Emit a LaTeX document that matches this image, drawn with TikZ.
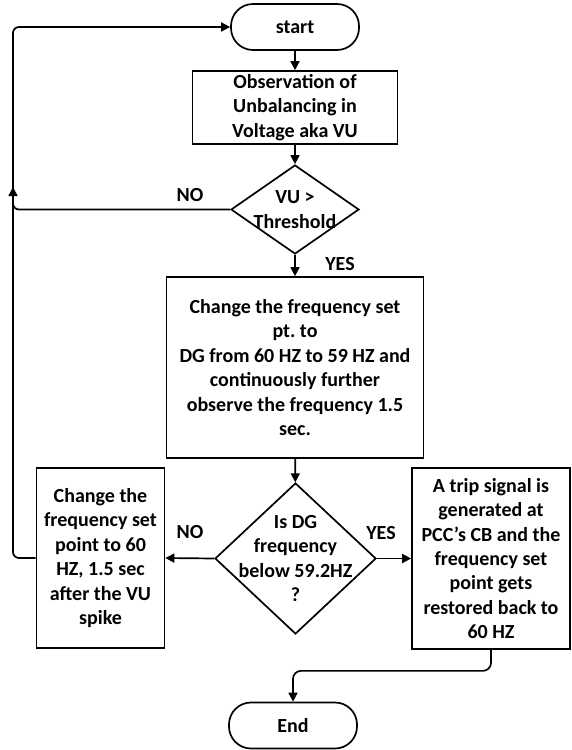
\documentclass[tikz,border=0pt]{standalone}
\usepackage{fontspec}
\setmainfont{Carlito}
\frenchspacing
\usetikzlibrary{arrows.meta,shapes.geometric}

\tikzset{
  base/.style={draw, line width=1.7pt, inner sep=0pt, align=center},
  terminal/.style={base, rounded corners=22pt, minimum width=128pt, minimum height=46pt},
  process/.style={base, rectangle},
  decision/.style={base, diamond},
  flow/.style={line width=1.7pt, -{Triangle[length=9pt,width=9pt]}},
  link/.style={line width=1.7pt},
  tag/.style={inner sep=0pt},
}

\begin{document}
\begin{tikzpicture}[x=1pt, y=-1pt, font=\fontsize{20}{24.4}\selectfont\bfseries]
  \useasboundingbox (0,0) rectangle (571,750);

  % --- start ---
  \node[terminal] (start) at (295, 27) {start};

  % --- observation ---
  \node[process, minimum width=205pt, minimum height=73pt] (obs) at (295, 107.5)
    {Observation of\\Unbalancing in\\Voltage aka VU};

  % --- VU > Threshold ---
  \node[decision, minimum width=128pt, minimum height=89pt,
    label={[align=center]center:{VU >\\Threshold}}] (vu) at (295, 209.5) {};

  % --- change set point to 59 HZ ---
  \node[process, minimum width=257pt, minimum height=181pt] (shift) at (295, 367.5)
    {Change the frequency set\\pt. to\\DG from 60 HZ to 59 HZ and\\continuously further\\observe the frequency 1.5\\sec.};

  % --- Is DG frequency below 59.2HZ ? ---
  \node[decision, minimum width=161pt, minimum height=151pt,
    label={[align=center]center:{Is DG\\frequency\\below 59.2HZ\\?}}] (dg) at (295.5, 558.5) {};

  % --- reset set point (NO) ---
  \node[process, minimum width=128pt, minimum height=180pt] (reset) at (100.5, 558)
    {Change the\\frequency set\\point to 60\\HZ, 1.5 sec\\after the VU\\spike};

  % --- trip signal (YES) ---
  \node[process, minimum width=158pt, minimum height=181pt] (trip) at (491, 558.5)
    {A trip signal is\\generated at\\PCC’s CB and the\\frequency set\\point gets\\restored back to\\60 HZ};

  % --- End ---
  \node[terminal] (end) at (293, 725.5) {End};

  % --- main flow ---
  \draw[flow] (start) -- (obs);
  \draw[flow] (obs) -- (vu);
  \draw[flow] (vu) -- (shift);
  \draw[flow] (shift) -- (dg);
  \draw[flow] (dg.west) -- (reset.east);
  \draw[flow] (dg.east) -- (trip.west);
  \draw[flow, rounded corners=8pt] (trip.south) -- ++(0, 21) -| (end.north);

  % --- return loop ---
  \coordinate (up) at (13, 187);
  \draw[flow, rounded corners=6pt] (reset.west) -| (up);
  \draw[link, rounded corners=6pt] (vu.west) -| (up);
  \draw[flow, rounded corners=6pt] (up) |- (start.west);

  % --- branch labels ---
  \node[tag] (no1) at (190, 195) {NO};
  \node[tag] (yes1) at (340, 264) {YES};
  \node[tag] (no2) at (190, 532) {NO};
  \node[tag] (yes2) at (381, 533) {YES};

\end{tikzpicture}
\end{document}
